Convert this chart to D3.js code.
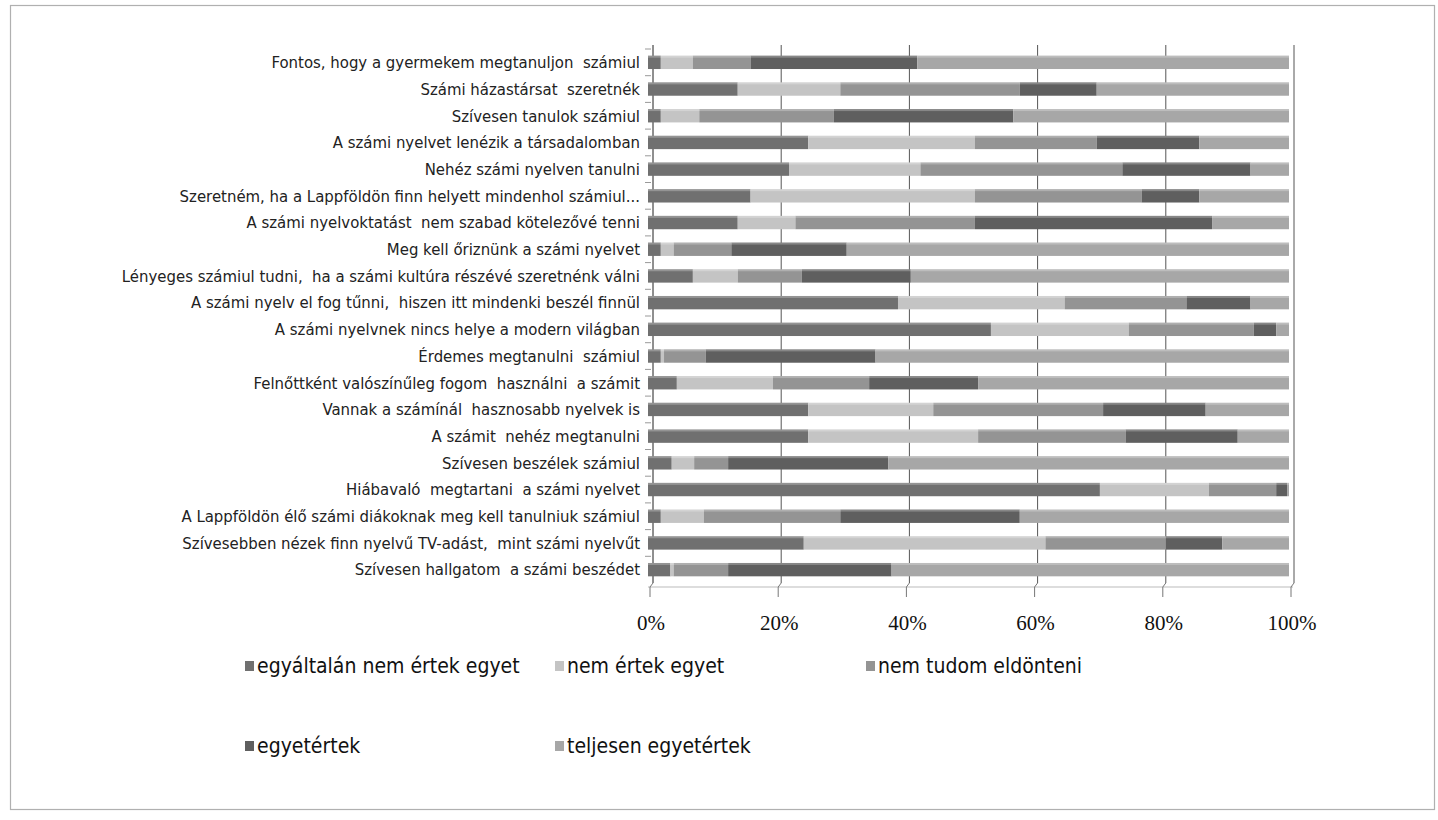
<!DOCTYPE html>
<html>
<head>
<meta charset="utf-8">
<script src="https://cdn.jsdelivr.net/npm/d3@7"></script>
<style>
  body { margin: 0; background: #fff; }
  .cat { font-family: "Liberation Sans Narrow", "DejaVu Sans Condensed", sans-serif; font-size: 16.6px; fill: #222; }
  .tick { font-family: "Liberation Serif", serif; font-size: 21px; fill: #111; }
  .leg { font-family: "Liberation Sans Narrow", "DejaVu Sans Condensed", sans-serif; font-size: 21px; fill: #111; }
</style>
</head>
<body>
<div id="chart"></div>
<script>
var categories = [
    "Fontos, hogy a gyermekem megtanuljon  számiul",
    "Számi házastársat  szeretnék",
    "Szívesen tanulok számiul",
    "A számi nyelvet lenézik a társadalomban",
    "Nehéz számi nyelven tanulni",
    "Szeretném, ha a Lappföldön finn helyett mindenhol számiul...",
    "A számi nyelvoktatást  nem szabad kötelezővé tenni",
    "Meg kell őriznünk a számi nyelvet",
    "Lényeges számiul tudni,  ha a számi kultúra részévé szeretnénk válni",
    "A számi nyelv el fog tűnni,  hiszen itt mindenki beszél finnül",
    "A számi nyelvnek nincs helye a modern világban",
    "Érdemes megtanulni  számiul",
    "Felnőttként valószínűleg fogom  használni  a számit",
    "Vannak a számínál  hasznosabb nyelvek is",
    "A számit  nehéz megtanulni",
    "Szívesen beszélek számiul",
    "Hiábavaló  megtartani  a számi nyelvet",
    "A Lappföldön élő számi diákoknak meg kell tanulniuk számiul",
    "Szívesebben nézek finn nyelvű TV-adást,  mint számi nyelvűt",
    "Szívesen hallgatom  a számi beszédet"
];

var seriesNames = ["egyáltalán nem értek egyet", "nem értek egyet", "nem tudom eldönteni",
    "egyetértek", "teljesen egyetértek"];

// percent of answers per statement
var egyaltalanNem = [2, 14, 2, 25, 22, 16, 14, 2, 7, 39, 53.5, 2, 4.5, 25, 25, 3.7, 70.5, 2, 24.3, 3.5];
var nemErtek      = [5, 16, 6, 26, 20.5, 35, 9, 2, 7, 26, 21.5, 0.5, 15, 19.5, 26.5, 3.5, 17, 6.7, 37.7, 0.5];
var nemTudom      = [9, 28, 21, 19, 31.5, 26, 28, 9, 10, 19, 19.5, 6.5, 15, 26.5, 23, 5.3, 10.5, 21.3, 18.8, 8.5];
var egyetertek    = [26, 12, 28, 16, 20, 9, 37, 18, 17, 10, 3.5, 26.5, 17, 16, 17.5, 25, 1.7, 28, 8.8, 25.5];
var teljesen      = [58, 30, 43, 14, 6, 14, 12, 69, 59, 6, 2, 64.5, 48.5, 13, 8, 62.5, 0.3, 42, 10.4, 62];

var tickLabels = ["0%", "20%", "40%", "60%", "80%", "100%"];

var colors = ["#707070", "#c4c4c4", "#949494", "#5f5f5f", "#a7a7a7"];

var width = 1438, height = 820;

var svg = d3.select("#chart").append("svg")
    .attr("width", width)
    .attr("height", height);

// outer frame
svg.append("rect")
    .attr("x", 10.5).attr("y", 5.5)
    .attr("width", 1424).attr("height", 804)
    .attr("fill", "none")
    .attr("stroke", "#b0b0b0")
    .attr("stroke-width", 1.2);

var rows = categories.map(function(c, i) {
    return {cat: c, s0: egyaltalanNem[i], s1: nemErtek[i], s2: nemTudom[i], s3: egyetertek[i], s4: teljesen[i]};
});

var stack = d3.stack()
    .keys(["s0", "s1", "s2", "s3", "s4"])
    .offset(d3.stackOffsetExpand);
var layers = stack(rows);

var x = d3.scaleLinear()
    .domain([0, 1])
    .range([650, 1291]);

var y = d3.scaleBand()
    .domain(categories)
    .range([49, 583])
    .paddingInner(0.5)
    .paddingOuter(0.25);

var plotTop = 45, plotBottom = 583;

// vertical grid lines
svg.append("g").selectAll("line")
    .data(d3.range(0, 1.01, 0.2))
    .enter().append("line")
    .attr("x1", function(d) { return x(d) + 3; })
    .attr("x2", function(d) { return x(d) + 3; })
    .attr("y1", plotTop)
    .attr("y2", plotBottom)
    .attr("stroke", "#555")
    .attr("stroke-width", 1);

// floor edge and x ticks
svg.append("line")
    .attr("x1", x(0) - 2).attr("x2", x(1) + 2)
    .attr("y1", plotBottom + 4).attr("y2", plotBottom + 4)
    .attr("stroke", "#bbb");
svg.append("g").selectAll("path")
    .data(d3.range(0, 1.01, 0.2))
    .enter().append("path")
    .attr("d", function(d) {
        var xx = x(d);
        return "M" + (xx + 3) + "," + plotBottom + "L" + xx + "," + (plotBottom + 4) + "L" + xx + "," + (plotBottom + 14);
    })
    .attr("fill", "none")
    .attr("stroke", "#777");

// left axis with small ticks
svg.append("line")
    .attr("x1", x(0) + 3).attr("x2", x(0) + 3)
    .attr("y1", plotTop).attr("y2", plotBottom)
    .attr("stroke", "#777");
svg.append("g").selectAll("line")
    .data(categories)
    .enter().append("line")
    .attr("x1", x(0) - 5).attr("x2", x(0) + 1)
    .attr("y1", function(d) { return y(d) - y.step() * 0.25; })
    .attr("y2", function(d) { return y(d) - y.step() * 0.25; })
    .attr("stroke", "#999");

// bars
var layerG = svg.append("g").selectAll("g")
    .data(layers)
    .enter().append("g")
    .attr("fill", function(d, i) { return colors[i]; });

layerG.selectAll("rect")
    .data(function(d) { return d; })
    .enter().append("rect")
    .attr("x", function(d) { return x(d[0]) - 2; })
    .attr("y", function(d) { return y(d.data.cat); })
    .attr("width", function(d) { return Math.max(0, x(d[1]) - x(d[0])); })
    .attr("height", y.bandwidth());

// light top strip for the 3D look
svg.append("g").selectAll("rect")
    .data(categories)
    .enter().append("rect")
    .attr("x", x(0) - 2)
    .attr("y", function(d) { return y(d); })
    .attr("width", x(1) - x(0))
    .attr("height", 2)
    .attr("fill", "#fff")
    .attr("opacity", 0.25);

// category labels
svg.append("g").selectAll("text")
    .data(categories)
    .enter().append("text")
    .attr("class", "cat")
    .attr("x", 640)
    .attr("y", function(d) { return y(d) + y.bandwidth() / 2; })
    .attr("dy", "0.35em")
    .attr("text-anchor", "end")
    .style("white-space", "pre")
    .text(function(d) { return d; });

// percent labels
svg.append("g").selectAll("text")
    .data(tickLabels)
    .enter().append("text")
    .attr("class", "tick")
    .attr("x", function(d, i) { return x(i * 0.2) + 1; })
    .attr("y", 630)
    .attr("text-anchor", "middle")
    .text(function(d) { return d; });

// legend
var legendPos = [[245, 666], [555, 666], [866, 666], [245, 746], [555, 746]];
var legend = svg.append("g").selectAll("g")
    .data(seriesNames)
    .enter().append("g")
    .attr("transform", function(d, i) { return "translate(" + legendPos[i][0] + "," + legendPos[i][1] + ")"; });
legend.append("rect")
    .attr("x", 0).attr("y", -5)
    .attr("width", 9).attr("height", 10)
    .attr("fill", function(d, i) { return colors[i]; });
legend.append("text")
    .attr("class", "leg")
    .attr("x", 12)
    .attr("dy", "0.35em")
    .text(function(d) { return d; });
</script>
</body>
</html>
